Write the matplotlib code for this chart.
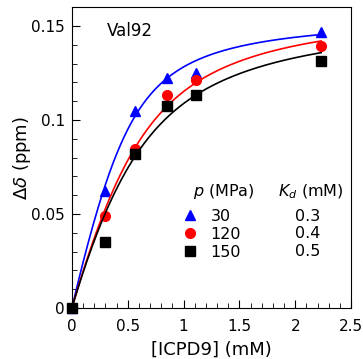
import numpy as np
import matplotlib
matplotlib.use("Agg")
import matplotlib.pyplot as plt
from matplotlib.ticker import MultipleLocator

# data
conc = [0.0, 0.295, 0.569, 0.848, 1.116, 2.232]
d_30 = [0.0, 0.0622, 0.105, 0.1225, 0.1249, 0.1468]
d_120 = [0.0, 0.0491, 0.0846, 0.1133, 0.1213, 0.1395]
d_150 = [0.0, 0.0351, 0.0819, 0.1074, 0.1133, 0.1315]
pressures = ["30", "120", "150"]
kd = [0.3, 0.4, 0.5]

# fit curves (one-site binding, ligand depletion form)
fit_P = [0.49, 0.55, 0.50]
fit_K = [0.13, 0.25, 0.30]
fit_A = [0.1561, 0.1623, 0.1584]

colors = ["blue", "red", "black"]
markers = ["^", "o", "s"]
msizes = [7.5, 7, 6.5]


def binding(L, P, K, A):
    s = P + L + K
    return A * (s - np.sqrt(s * s - 4 * P * L)) / (2 * P)


fig = plt.figure(figsize=(3.63, 3.59), dpi=100)
ax = fig.add_axes([0.198, 0.142, 0.769, 0.838])

xfit = np.linspace(0, max(conc), 200)
handles = []
series = [d_30, d_120, d_150]
for i in range(3):
    ax.plot(xfit, binding(xfit, fit_P[i], fit_K[i], fit_A[i]), color=colors[i], lw=1.2)
    h, = ax.plot(conc, series[i], ls="none", marker=markers[i], color=colors[i],
                 ms=msizes[i], label=pressures[i], clip_on=False)
    handles.append(h)

ax.set_xlim(0, 2.5)
ax.set_ylim(0, 0.16)
ax.xaxis.set_major_locator(MultipleLocator(0.5))
ax.xaxis.set_minor_locator(MultipleLocator(0.1))
ax.yaxis.set_major_locator(MultipleLocator(0.05))
ax.yaxis.set_minor_locator(MultipleLocator(0.01))
ax.xaxis.set_major_formatter(lambda v, p: "%g" % round(v, 3))
ax.yaxis.set_major_formatter(lambda v, p: "%g" % round(v, 3))
ax.tick_params(which="both", direction="in", labelsize=11)
ax.tick_params(which="major", length=6)
ax.tick_params(which="minor", length=3.5)
ax.tick_params(axis="x", pad=8)
ax.tick_params(axis="y", pad=5)

ax.set_xlabel("[ICPD9] (mM)", fontsize=13)
ax.set_ylabel(r"$\Delta\delta$ (ppm)", fontsize=13)
ax.xaxis.set_label_coords(0.5, -0.11)
ax.yaxis.set_label_coords(-0.138, 0.5)

ax.text(0.124, 0.92, "Val92", transform=ax.transAxes, fontsize=12, va="center")

leg = ax.legend(handles=handles, loc="upper left", bbox_to_anchor=(0.394, 0.330),
                frameon=False, fontsize=11.5, handlelength=1.0, handletextpad=0.79,
                labelspacing=0.19, borderpad=0, borderaxespad=0)
ax.text(0.435, 0.386, r"$p$ (MPa)", transform=ax.transAxes, fontsize=11.5, va="center")
ax.text(0.737, 0.386, r"$K_d$ (mM)", transform=ax.transAxes, fontsize=11.5, va="center")
kd_y = [0.3056, 0.2482, 0.187]
for i in range(3):
    ax.text(0.799, kd_y[i], "%.1f" % kd[i], transform=ax.transAxes, fontsize=11.5, va="center")

fig.savefig("out.png", dpi=100)
